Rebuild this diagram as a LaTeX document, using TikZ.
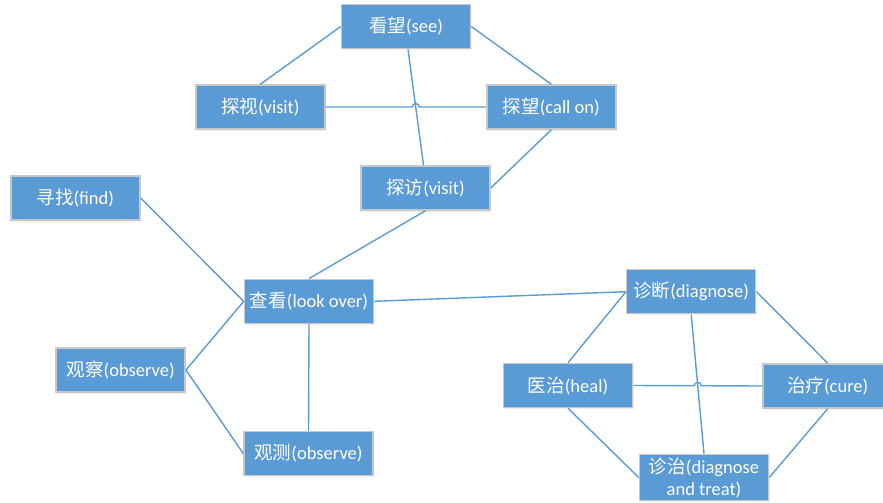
\documentclass[tikz,border=0pt]{standalone}
\usepackage{fontspec}
\setmainfont{Carlito}
\newfontfamily\cjk{Noto Sans CJK SC}
\usetikzlibrary{positioning,intersections,shadows}
\definecolor{wordblue}{HTML}{5B9BD5}
\definecolor{wordedge}{HTML}{C8C8C8}
\tikzset{
  word/.style={draw=wordedge, line width=1.5pt, fill=wordblue, text=white,
    minimum width=129pt, minimum height=44pt, inner sep=0pt, align=center,
    font=\fontsize{18.5}{22}\selectfont,
    drop shadow={opacity=0.12, shadow xshift=1pt, shadow yshift=-1.5pt}},
  link/.style={draw=wordblue, line width=1.4pt},
}
% line hopping over another one at a named crossing
\newcommand{\hopline}[3]{%
  \draw[link] (#1) -- ([xshift=-3.5pt]#3) .. controls +(0,4.5pt) and +(0,4.5pt) .. ([xshift=3.5pt]#3) -- (#2);}

\begin{document}
\begin{tikzpicture}[x=1pt, y=-1pt]
\useasboundingbox (0,0) rectangle (883,503);
\clip (0,0) rectangle (883,503);

% words
\node[word] (see)      at (406,26.5)  {{\cjk 看望}(see)};
\node[word] (visitA)   at (260.3,107) {{\cjk 探视}(visit)};
\node[word] (callon)   at (551.3,107) {{\cjk 探望}(call on)};
\node[word] (visitB)   at (425.5,188) {{\cjk 探访}(visit)};
\node[word] (find)     at (75.3,198)  {{\cjk 寻找}(find)};
\node[word] (lookover) at (309,301.3) {{\cjk 查看}(look over)};
\node[word] (observeA) at (120.7,370) {{\cjk 观察}(observe)};
\node[word] (observeB) at (308.5,453.5) {{\cjk 观测}(observe)};
\node[word] (diagnose) at (691.2,291.7) {{\cjk 诊断}(diagnose)};
\node[word] (heal)     at (568,385.5) {{\cjk 医治}(heal)};
\node[word] (cure)     at (827.7,386) {{\cjk 治疗}(cure)};
\node[word, minimum height=46pt] (treat) at (704,477.5) {{\cjk 诊治}(diagnose\\and treat)};

% links, upper group
\draw[link] (see.west) -- (visitA.north);
\draw[link] (see.east) -- (callon.north);
\draw[link, name path=seedown] ([xshift=2pt]see.south) -- ([xshift=-2pt]visitB.north);
\path[name path=visitrow] (visitA.east) -- (callon.west);
\path[name intersections={of=seedown and visitrow, by=hopA}];
\hopline{visitA.east}{callon.west}{hopA}
\draw[link] (callon.south) -- (visitB.east);
\draw[link] (visitB.south) -- (lookover.north);

% links, left group
\draw[link] (find.east) -- (lookover.west);
\draw[link] (observeA.east) -- (lookover.west);
\draw[link] (observeA.east) -- (observeB.west);
\draw[link] (lookover.south) -- (observeB.north);
\draw[link] (lookover.east) -- (diagnose.west);

% links, lower right group
\draw[link] (diagnose.west) -- (heal.north);
\draw[link] (diagnose.east) -- (cure.north);
\draw[link, name path=diagdown] (diagnose.south) -- (treat.north);
\path[name path=healrow] (heal.east) -- (cure.west);
\path[name intersections={of=diagdown and healrow, by=hopB}];
\hopline{heal.east}{cure.west}{hopB}
\draw[link] (heal.south) -- (treat.west);
\draw[link] (cure.south) -- (treat.east);
\end{tikzpicture}
\end{document}
